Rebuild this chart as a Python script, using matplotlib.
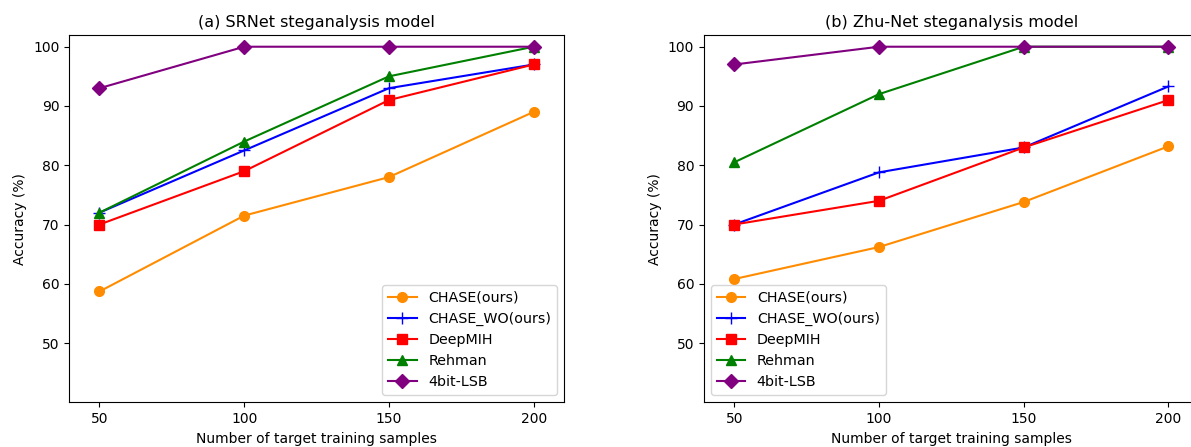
import matplotlib
matplotlib.use("Agg")
import matplotlib.pyplot as plt

# ---- 資料 ----
samples = [50, 100, 150, 200]
methods = ["CHASE(ours)", "CHASE_WO(ours)", "DeepMIH", "Rehman", "4bit-LSB"]

srnet_chase = [58.7, 71.5, 78.0, 89.0]
srnet_chase_wo = [72.0, 82.5, 93.0, 97.0]
srnet_deepmih = [70.0, 79.0, 91.0, 97.0]
srnet_rehman = [72.0, 84.0, 95.0, 100.0]
srnet_lsb = [93.0, 100.0, 100.0, 100.0]

zhu_chase = [60.8, 66.2, 73.8, 83.2]
zhu_chase_wo = [70.0, 78.8, 83.0, 93.3]
zhu_deepmih = [70.0, 74.0, 83.0, 91.0]
zhu_rehman = [80.5, 92.0, 100.0, 100.0]
zhu_lsb = [97.0, 100.0, 100.0, 100.0]

styles = [("darkorange", "o"), ("blue", "+"), ("red", "s"), ("green", "^"), ("purple", "D")]

panels = [
    ("(a) SRNet steganalysis model",
     [srnet_chase, srnet_chase_wo, srnet_deepmih, srnet_rehman, srnet_lsb], "lower right"),
    ("(b) Zhu-Net steganalysis model",
     [zhu_chase, zhu_chase_wo, zhu_deepmih, zhu_rehman, zhu_lsb], "lower left"),
]

plt.rcParams["font.size"] = 10
fig = plt.figure(figsize=(11.91, 4.47), dpi=100)
lefts = [0.058, 0.591]

for left, (title, series, loc) in zip(lefts, panels):
    ax = fig.add_axes([left, 0.100, 0.4156, 0.822])
    for name, vals, (c, m) in zip(methods, series, styles):
        ms = 8 if m == "+" else 7
        ax.plot(samples, vals, color=c, marker=m, markersize=ms, lw=1.5, label=name)
    ax.set_xlim(39.5, 210.5)
    ax.set_ylim(40, 102)
    ax.set_xticks(samples)
    ax.set_yticks([50, 60, 70, 80, 90, 100])
    ax.set_title(title, fontsize=11.5)
    ax.set_xlabel("Number of target training samples")
    ax.set_ylabel("Accuracy (%)")
    ax.legend(loc=loc, fontsize=10.3)

fig.savefig("out.png", dpi=100)
